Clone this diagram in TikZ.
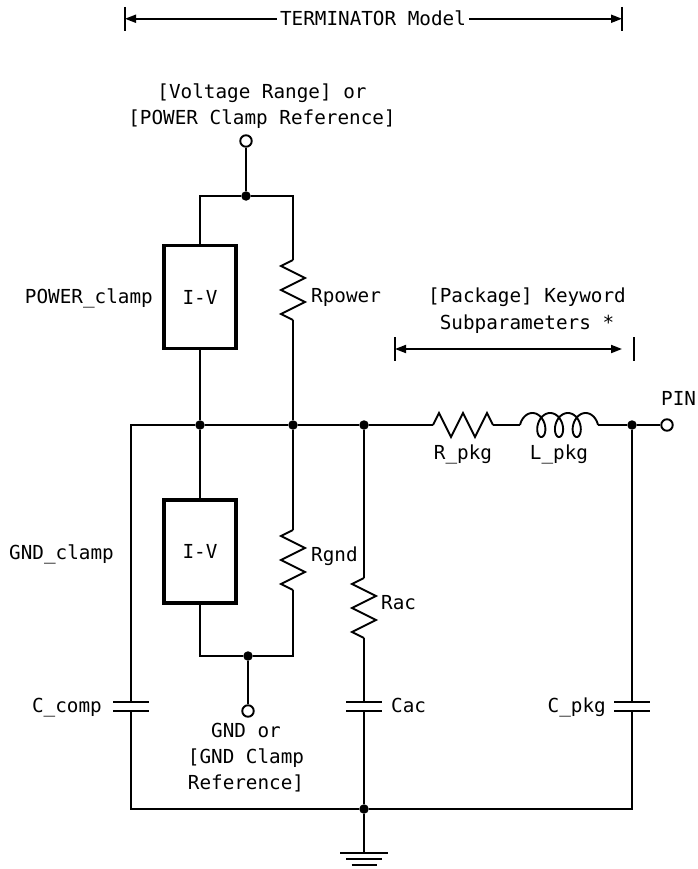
\documentclass[tikz,border=0pt]{standalone}
\usepackage{fontspec}
\setmainfont{DejaVu Sans Mono}
\usetikzlibrary{arrows.meta}
\begin{document}
\begin{tikzpicture}[x=1pt,y=-1pt,
  every node/.style={font=\fontsize{19.3}{26}\selectfont},
  wire/.style={line width=1.9pt},
  ivbox/.style={draw,line width=3.2pt,minimum width=72pt,minimum height=103pt,inner sep=0pt},
  dot/.style={circle,fill=black,inner sep=0pt,minimum size=9.5pt},
  term/.style={circle,draw,fill=white,line width=1.9pt,inner sep=0pt,minimum size=11.5pt},
  lbl/.style={inner sep=0pt},
  plate/.style={line width=2.6pt},
  tip/.style={-{Triangle[length=11pt,width=8pt]}},
  tips/.style={{Triangle[length=11pt,width=8pt]}-{Triangle[length=11pt,width=8pt]}},
]
\useasboundingbox (0,0) rectangle (697,869);

% ---------- nodes and coordinates ----------
\node[term] (vt) at (246,141) {};
\node[dot] (jt) at (246,196) {};
\coordinate (tl) at (200,196);
\coordinate (tr) at (293,196);
\node[ivbox] (iv1) at (200,297) {I-V};
\coordinate (rp1) at (293,260);
\coordinate (rp2) at (293,320);
\node[dot] (j1) at (200,425) {};
\node[dot] (j2) at (293,425) {};
\node[dot] (j3) at (364,425) {};
\node[dot] (j4) at (632,425) {};
\coordinate (rl) at (131,425);
\node[term] (pin) at (667,425) {};
\coordinate (rk1) at (433,425);
\coordinate (rk2) at (493,425);
\coordinate (lk1) at (520,425);
\coordinate (lk2) at (598,425);
\node[ivbox] (iv2) at (200,551.5) {I-V};
\coordinate (rg1) at (293,530);
\coordinate (rg2) at (293,590);
\coordinate (bl) at (200,656);
\coordinate (br) at (293,656);
\node[dot] (jg) at (248,656) {};
\node[term] (gt) at (248,711) {};
\coordinate (ra1) at (364,578);
\coordinate (ra2) at (364,638);
\coordinate (cc1) at (131,702);
\coordinate (cc2) at (131,711);
\coordinate (ca1) at (364,702);
\coordinate (ca2) at (364,711);
\coordinate (cp1) at (632,702);
\coordinate (cp2) at (632,711);
\coordinate (bL) at (131,809);
\node[dot] (jb) at (364,809) {};
\coordinate (bR) at (632,809);
\coordinate (gnd) at (364,853);

% ---------- wires ----------
\draw[wire] (vt) -- (jt);
\draw[wire] (iv1.north) -- (tl) -- (jt) -- (tr) -- (rp1);
\draw[wire] (rp1) -- ++(-12,6) -- ++(24,12) -- ++(-24,12) -- ++(24,12) -- ++(-24,12) -- (rp2);
\draw[wire] (rp2) -- (j2);
\draw[wire] (iv1.south) -- (j1);
\draw[wire] (cc1) -- (rl) -- (j1) -- (j2) -- (j3) -- (rk1);
\draw[wire] (rk1) -- ++(6,-12) -- ++(12,24) -- ++(12,-24) -- ++(12,24) -- ++(12,-24) -- (rk2);
\draw[wire] (rk2) -- (lk1);
\draw[wire] plot[domain=0:21.9911,samples=280,variable=\t] ({528+2.82*\t-8*cos(\t r)},{425-12*sin(\t r)});
\draw[wire] (lk2) -- (j4) -- (pin);
\draw[wire] (j1) -- (iv2.north);
\draw[wire] (iv2.south) -- (bl) -- (jg) -- (br) -- (rg2);
\draw[wire] (j2) -- (rg1);
\draw[wire] (rg1) -- ++(-12,6) -- ++(24,12) -- ++(-24,12) -- ++(24,12) -- ++(-24,12) -- (rg2);
\draw[wire] (jg) -- (gt);
\draw[wire] (j3) -- (ra1);
\draw[wire] (ra1) -- ++(-12,6) -- ++(24,12) -- ++(-24,12) -- ++(24,12) -- ++(-24,12) -- (ra2);
\draw[wire] (ra2) -- (ca1);
\draw[wire] (ca2) -- (jb);
\draw[wire] (j4) -- (cp1);
\draw[wire] (cp2) -- (bR) -- (jb) -- (bL) -- (cc2);
\draw[wire] (jb) -- (gnd);

% capacitor plates
\foreach \c in {cc1,cc2,ca1,ca2,cp1,cp2}{
  \draw[plate] ([xshift=-18pt]\c) -- ([xshift=18pt]\c);
}
% ground
\draw[plate] ([xshift=-24pt]gnd) -- ([xshift=24pt]gnd);
\draw[plate] ([shift={(-18,6)}]gnd) -- ([shift={(18,6)}]gnd);
\draw[plate] ([shift={(-12.5,12)}]gnd) -- ([shift={(12.5,12)}]gnd);

% ---------- dimension lines ----------
\node[lbl,anchor=base,inner xsep=3pt] (tm) at (373,26) {TERMINATOR Model};
\coordinate (dL) at (125,19);
\coordinate (dR) at (622,19);
\draw[wire] ([yshift=12pt]dL) -- ([yshift=-12pt]dL);
\draw[wire] ([yshift=12pt]dR) -- ([yshift=-12pt]dR);
\draw[wire,tip] (tm.west) -- (tm.west -| dL);
\draw[wire,tip] (tm.east) -- (tm.east -| dR);

\coordinate (pL) at (395,349);
\coordinate (pR) at (622,349);
\coordinate (pT) at (634,349);
\draw[wire] ([yshift=12pt]pL) -- ([yshift=-12pt]pL);
\draw[wire] ([yshift=12pt]pT) -- ([yshift=-12pt]pT);
\draw[wire,tips] (pL) -- (pR);

% ---------- labels ----------
\node[lbl,anchor=base] (v1) at (262,99) {[Voltage Range] or};
\node[lbl,anchor=base] (v2) at (262,125) {[POWER Clamp Reference]};
\node[lbl,anchor=base east] (lpc) at (153,303) {POWER\_clamp};
\node[lbl,anchor=base east] (lgc) at (114,559) {GND\_clamp};
\node[lbl,anchor=base west] (lrp) at (311,302) {Rpower};
\node[lbl,anchor=base west] (lrg) at (311,561) {Rgnd};
\node[lbl,anchor=base west] (lra) at (381,609) {Rac};
\node[lbl,anchor=base west] (lca) at (391,712) {Cac};
\node[lbl,anchor=base east] (lcc) at (102,712) {C\_comp};
\node[lbl,anchor=base east] (lcp) at (606,712) {C\_pkg};
\node[lbl,anchor=base] (lrk) at (463,459) {R\_pkg};
\node[lbl,anchor=base] (llk) at (559,459) {L\_pkg};
\node[lbl,anchor=base west] (lpin) at (661,405) {PIN};
\node[lbl,anchor=base] (pk1) at (527,302) {[Package] Keyword};
\node[lbl,anchor=base] (pk2) at (527,329) {Subparameters *};
\node[lbl,anchor=base] (g1) at (246,737) {GND or};
\node[lbl,anchor=base] (g2) at (246,763) {[GND Clamp};
\node[lbl,anchor=base] (g3) at (246,789) {Reference]};
\end{tikzpicture}
\end{document}
